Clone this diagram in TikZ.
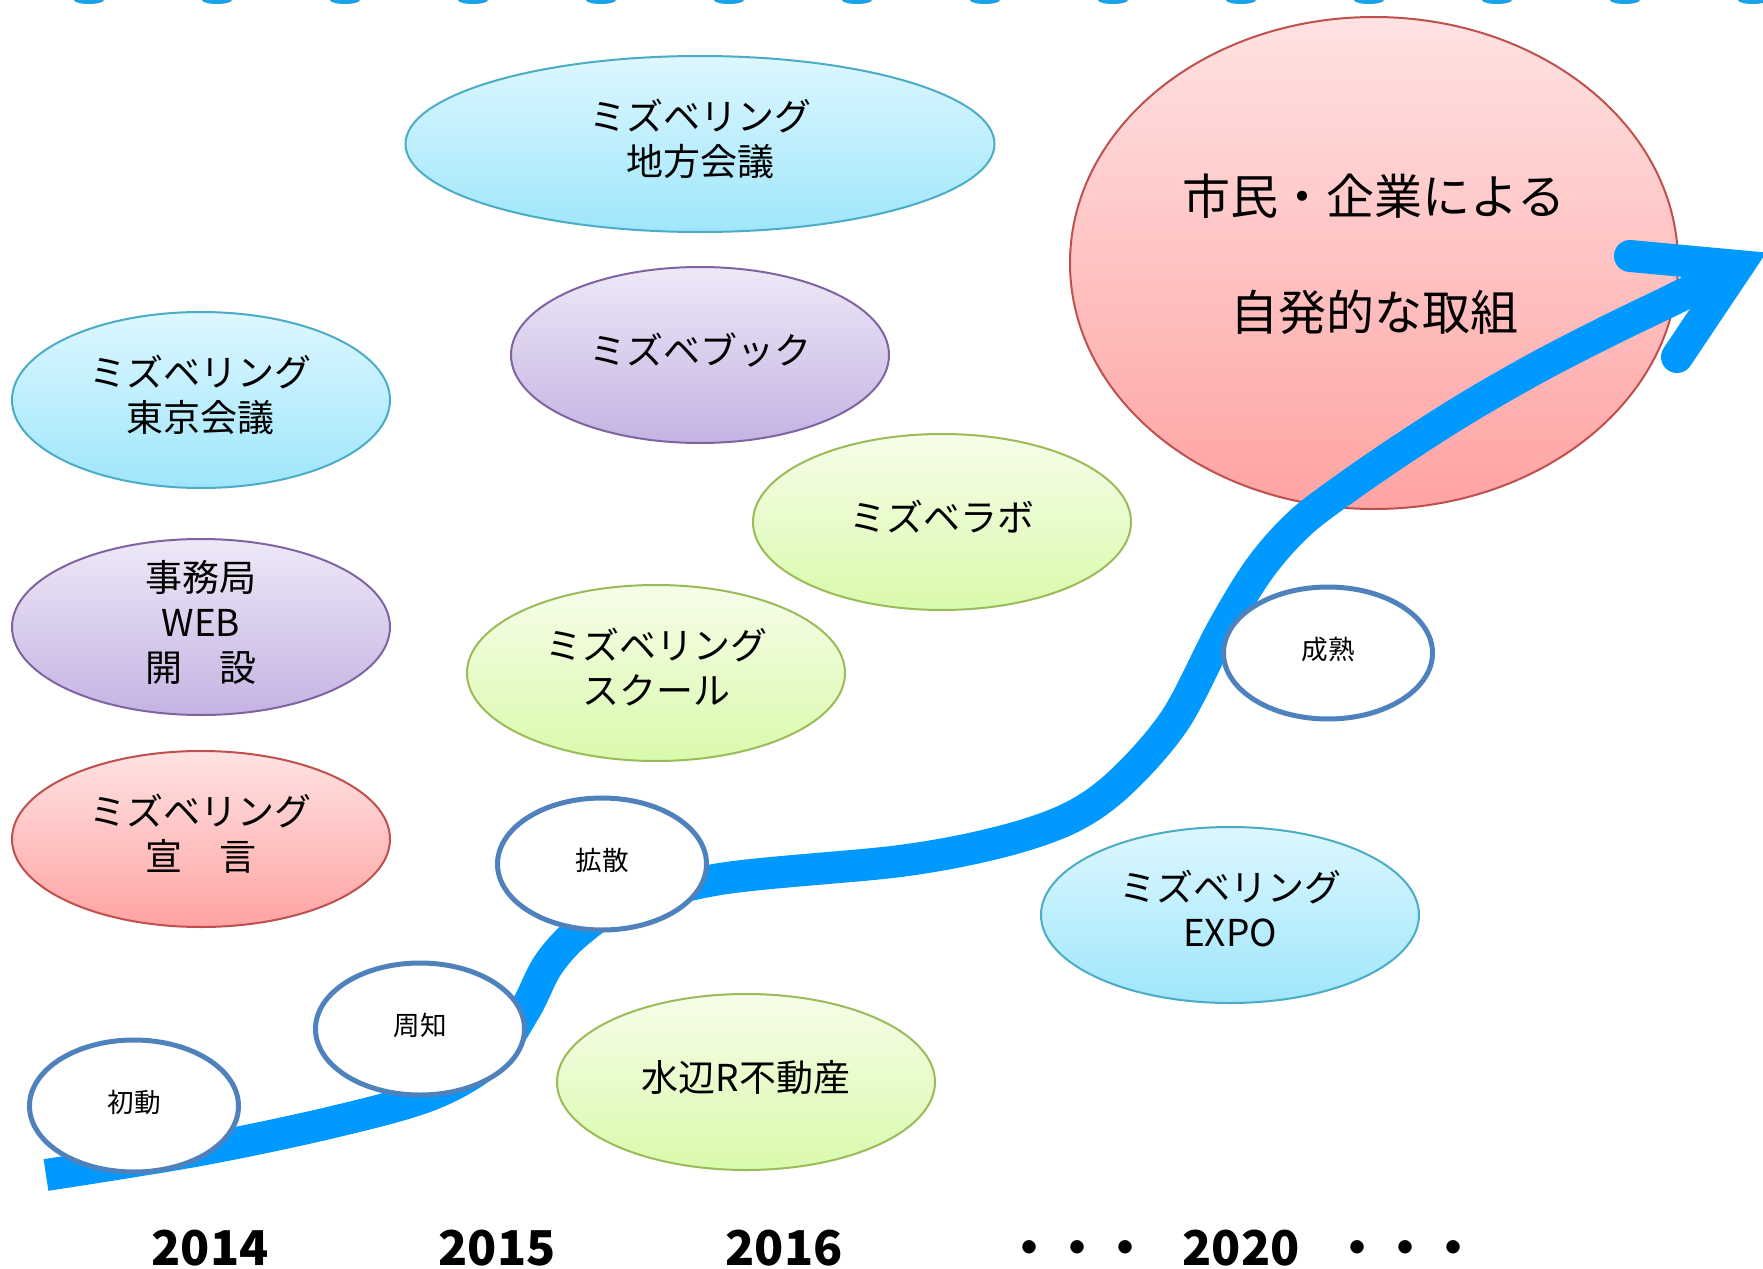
\documentclass[tikz,border=0pt]{standalone}
\usepackage{fontspec}
\usetikzlibrary{shapes.geometric}
\newfontfamily\jp{Noto Sans CJK JP}
\newcommand\mzlines[1]{\begin{tabular}{@{}c@{}}#1\end{tabular}}
\definecolor{bandblue}{HTML}{0099FF}
\definecolor{dotblue}{HTML}{1AA3E8}
\definecolor{stepblue}{HTML}{4F81BD}
\definecolor{cyanedge}{HTML}{4BACC6}
\definecolor{cyantop}{HTML}{DDF7FF}
\definecolor{cyanbot}{HTML}{9FE6FB}
\definecolor{purpedge}{HTML}{8064A2}
\definecolor{purptop}{HTML}{EEE8F7}
\definecolor{purpbot}{HTML}{C5B3E3}
\definecolor{greenedge}{HTML}{9BBB59}
\definecolor{greentop}{HTML}{F6FDE9}
\definecolor{greenbot}{HTML}{D9FAAC}
\definecolor{rededge}{HTML}{C0504D}
\definecolor{redtop}{HTML}{FFE2E2}
\definecolor{redbot}{HTML}{FFA3A3}
\begin{document}
\begin{tikzpicture}[x=0.5pt,y=-0.5pt,
  bub/.style={ellipse, inner sep=0pt, line width=1pt, minimum width=189pt, minimum height=88pt,
    font=\jp\fontsize{18.5}{22.5}\selectfont},
  cyanbub/.style={bub, draw=cyanedge, top color=cyantop, bottom color=cyanbot},
  purpbub/.style={bub, draw=purpedge, top color=purptop, bottom color=purpbot},
  greenbub/.style={bub, draw=greenedge, top color=greentop, bottom color=greenbot},
  redbub/.style={bub, draw=rededge, top color=redtop, bottom color=redbot},
  stage/.style={ellipse, draw=stepblue, line width=2.5pt, fill=white, inner sep=0pt,
    minimum width=104.5pt, minimum height=66pt, font=\jp\fontsize{13.3}{16}\selectfont},
  band/.style={draw=bandblue, line width=16pt},
  year/.style={anchor=base, inner sep=0pt, font=\jp\bfseries\fontsize{24}{28}\selectfont}
]
\useasboundingbox (0,0) rectangle (1763,1269);
\clip (0,0) rectangle (1763,1269);
\fill[white] (0,0) rectangle (1763,1269);

% top dotted edge
\foreach \i in {0,...,13} {
  \fill[dotblue] (89+128*\i,0) ellipse (7.5pt and 2pt);
}

% big goal ellipse
\node[redbub, minimum width=304pt, minimum height=246pt, font=\jp\fontsize{24}{58}\selectfont]
  (goal) at (1374,263)
  {\raisebox{0pt}[\height][\dimexpr\depth+13.4pt\relax]{\mzlines{市民・企業による\\自発的な取組}}};

% activity ellipses
\node[cyanbub, minimum width=294.5pt] (chiho) at (700,144) {\mzlines{ミズベリング\\地方会議}};
\node[purpbub] (book) at (700,355) {\mzlines{ミズベブック}};
\node[cyanbub] (tokyo) at (201,400) {\mzlines{ミズベリング\\東京会議}};
\node[greenbub] (lab) at (942,522) {\mzlines{ミズベラボ}};
\node[purpbub, inner ysep=-3.5pt] (web) at (201,627) {\mzlines{事務局\\WEB\\開　設}};
\node[greenbub] (school) at (656,673) {\mzlines{ミズベリング\\スクール}};
\node[redbub] (sengen) at (201,839) {\mzlines{ミズベリング\\宣　言}};
\node[cyanbub] (expo) at (1230,915) {\mzlines{ミズベリング\\EXPO}};
\node[greenbub] (fudosan) at (746,1082) {\mzlines{水辺R不動産}};

% growth band
\coordinate (start) at (46,1175);
\coordinate (tip) at (1738,266);
\coordinate (armA) at (1630,256);
\coordinate (armB) at (1677,357);
\draw[band] plot[smooth, tension=0.55] coordinates {
  (46,1175) (200,1150) (333,1122) (430,1095) (490,1060) (525,1010) (548,965)
  (578,932) (620,906) (720,879) (900,861) (1000,842) (1070,818) (1120,783)
  (1175,720) (1222,630) (1260,568) (1300,523) (1350,485) (1410,444) (1470,406)
  (1540,366) (1610,330) (1676,298) (1738,266)};
\draw[band, line cap=round, line join=miter] (armA) -- (tip) -- (armB);

% stage ellipses
\node[stage] (shodo) at (134,1106) {\mzlines{初動}};
\node[stage] (shuchi) at (420,1029) {\mzlines{周知}};
\node[stage] (kakusan) at (602,864) {\mzlines{拡散}};
\node[stage] (seijuku) at (1328,653) {\mzlines{成熟}};

% years
\node[year] (y2014) at (210,1265) {2014};
\node[year] (y2015) at (497,1265) {2015};
\node[year] (y2016) at (784,1265) {2016};
\node[year] (dotsA) at (1077,1265) {・・・};
\node[year] (y2020) at (1241,1265) {2020};
\node[year] (dotsB) at (1405,1265) {・・・};
\end{tikzpicture}
\end{document}
